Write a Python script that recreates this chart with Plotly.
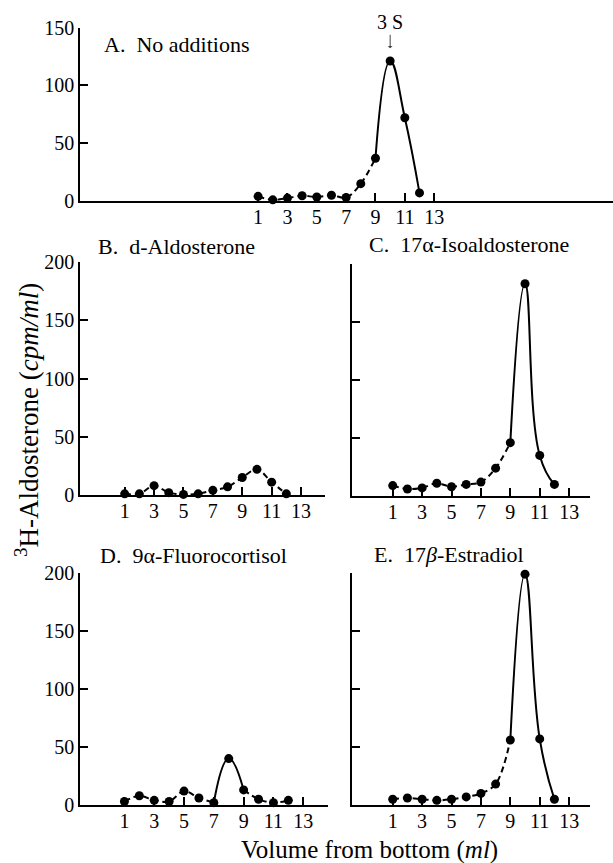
import plotly.graph_objects as go

# ---------------- data ----------------
fractions = [1, 2, 3, 4, 5, 6, 7, 8, 9, 10, 11, 12]
tick_values = [1, 3, 5, 7, 9, 11, 13]
tick_labels = ["1", "3", "5", "7", "9", "11", "13"]

a_no_additions = [4, 1, 2.5, 4.5, 3.5, 5, 3, 15, 37, 121, 72, 7]
b_d_aldosterone = [1, 1, 8, 2, 0.5, 1, 4, 7, 15, 22, 11, 1]
c_isoaldosterone = [9, 6, 7, 11, 8, 10, 12, 24, 46, 183, 35, 10]
d_fluorocortisol = [3, 8, 4, 3, 12, 6, 2, 40, 13, 5, 2, 4]
e_estradiol = [5, 6, 5, 4, 5, 7, 10, 18, 56, 199, 57, 5]

panel_titles = ["A.  No additions", "B.  d-Aldosterone", "C.  17α-Isoaldosterone",
                "D.  9α-Fluorocortisol", "E.  17<i>β</i>-Estradiol"]

# segments: (start index, end index inclusive, style)
segments_a = [(0, 8, "dash"), (8, 11, "solid")]
segments_b = [(0, 11, "dash")]
segments_c = [(0, 8, "dash"), (8, 11, "solid")]
segments_d = [(0, 6, "dash"), (6, 8, "solid"), (8, 11, "dash")]
segments_e = [(0, 8, "dash"), (8, 11, "solid")]

W, H = 613, 863
FONT = "Liberation Serif"

def px_x(p):
    return p / W

def px_y(p):
    return 1 - p / H

panels = [
    # values, segments, x-domain px, y-domain px (bottom, top), x range, y max, show y labels
    (a_no_additions, segments_a, (80, 613), (201, 27.5), (-11.14, 25.19), 150, True),
    (b_d_aldosterone, segments_b, (80, 325), (495, 262), (-2.04, 14.63), 200, True),
    (c_isoaldosterone, segments_c, (352, 590), (496, 264), (-1.77, 14.42), 200, False),
    (d_fluorocortisol, segments_d, (80, 328), (805, 573), (-1.98, 14.66), 200, True),
    (e_estradiol, segments_e, (352, 590), (805, 573), (-1.77, 14.42), 200, False),
]

fig = go.Figure()
layout = {}

for i, (vals, segs, xd, yd, xr, ymax, ylabels) in enumerate(panels):
    n = "" if i == 0 else str(i + 1)
    xa, ya = "x" + n, "y" + n
    for s, e, style in segs:
        fig.add_trace(go.Scatter(
            x=fractions[s:e + 1], y=vals[s:e + 1], mode="lines",
            line=dict(color="black", width=2,
                      shape="spline", smoothing=1.0 if style == "dash" else 1.3,
                      dash="6px,4px" if style == "dash" else "solid"),
            xaxis=xa, yaxis=ya, showlegend=False, hoverinfo="skip", cliponaxis=False))
    fig.add_trace(go.Scatter(
        x=fractions, y=vals, mode="markers",
        marker=dict(color="black", size=9),
        xaxis=xa, yaxis=ya, showlegend=False, cliponaxis=False))
    common = dict(showline=True, linecolor="black", linewidth=1.6, ticks="inside",
                  ticklen=8, tickwidth=1.5, tickcolor="black", showgrid=False,
                  zeroline=False, automargin=False,
                  tickfont=dict(family=FONT, size=20, color="black"))
    layout["xaxis" + n] = dict(common, domain=[px_x(xd[0]), px_x(xd[1])], range=list(xr),
                               tickvals=tick_values, ticktext=tick_labels, anchor=ya,
                               ticklabelstandoff=-3)
    layout["yaxis" + n] = dict(common, domain=[px_y(yd[0]), px_y(yd[1])], range=[0, ymax],
                               tickvals=list(range(0, ymax + 1, 50)),
                               showticklabels=ylabels, anchor=xa)

fig.update_layout(template="none", **layout)

title_pos = [(102, 44), (96, 247), (367, 245), (98, 555), (372, 554)]
annotations = []
for t, (x, y) in zip(panel_titles, title_pos):
    annotations.append(dict(text=t, x=px_x(x), y=px_y(y), xref="paper", yref="paper",
                            xanchor="left", yanchor="middle", showarrow=False,
                            font=dict(family=FONT, size=22, color="black")))

annotations.append(dict(text="3 S", x=10, y=132, xref="x", yref="y", showarrow=True,
                        arrowhead=1, arrowsize=0.8, arrowwidth=1, ax=0, ay=-26,
                        font=dict(family=FONT, size=20, color="black")))

annotations.append(dict(text="<sup>3</sup>H-Aldosterone (<i>cpm/ml</i>)", textangle=-90,
                        x=px_x(27), y=px_y(420), xref="paper", yref="paper",
                        xanchor="center", yanchor="middle", showarrow=False,
                        font=dict(family=FONT, size=27, color="black")))
annotations.append(dict(text="Volume from bottom (<i>ml</i>)",
                        x=px_x(369), y=px_y(850), xref="paper", yref="paper",
                        xanchor="center", yanchor="middle", showarrow=False,
                        font=dict(family=FONT, size=25, color="black")))

fig.update_layout(annotations=annotations, width=W, height=H,
                  margin=dict(l=0, r=0, t=0, b=0, pad=0, autoexpand=False),
                  paper_bgcolor="white", plot_bgcolor="white")

fig.write_html(
    "out.html",
    config={"displayModeBar": False},
    post_script=(
        "document.documentElement.style.margin='0';"
        "document.body.style.margin='0';"
    ),
)
